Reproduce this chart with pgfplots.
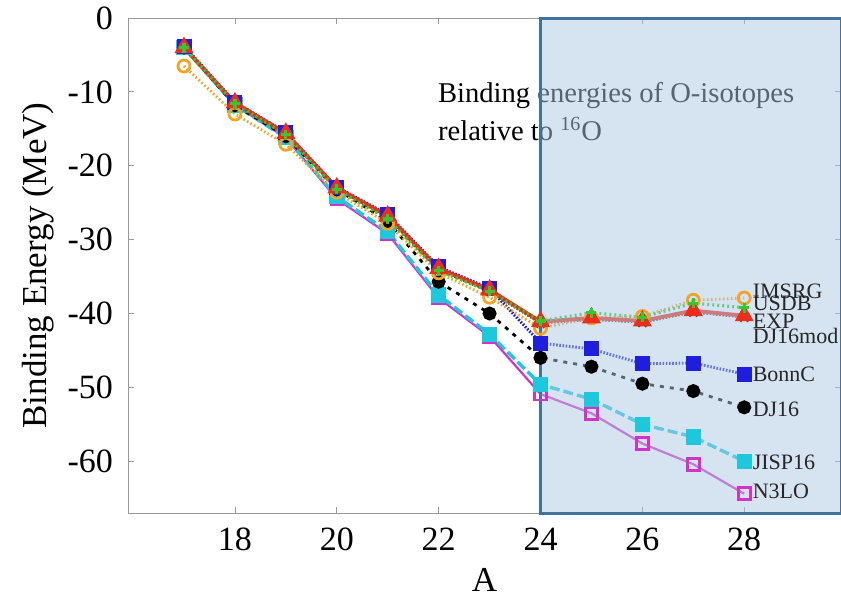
\documentclass[border=0pt]{standalone}
\usepackage{fontspec}
\setmainfont{Liberation Serif}
\usepackage{pgfplots}
\pgfplotsset{compat=1.18}
\usetikzlibrary{calc}

\definecolor{cExp}{RGB}{235,45,25}
\definecolor{cUsdb}{RGB}{50,200,50}
\definecolor{cImsrg}{RGB}{240,165,40}
\definecolor{cBonn}{RGB}{30,30,220}
\definecolor{cJisp}{RGB}{30,200,220}
\definecolor{cN3lo}{RGB}{210,50,200}
\definecolor{cMod}{RGB}{110,70,30}
\definecolor{rectfill}{RGB}{173,201,229}
\definecolor{rectedge}{RGB}{65,113,156}

\begin{document}
\begin{tikzpicture}
\begin{axis}[name=ax, width=356.5pt, height=247.5pt, scale only axis,
  xmin=15.9, xmax=29.9, ymin=-67, ymax=0, clip=false,
  xtick={18,20,...,28}, ytick={-60,-50,...,0},
  tick align=inside, major tick length=3pt,
  axis line style={gray!80}, every tick/.style={gray!80},
  tick label style={font=\fontsize{17}{20}\selectfont},
  /pgf/number format/assume math mode=true,
  xticklabel style={yshift=-4pt}, yticklabel style={xshift=-4pt},
  xlabel={A}, ylabel={Binding Energy (MeV)},
  label style={font=\fontsize{17.5}{21}\selectfont},
  xlabel style={at={(axis description cs:0.5,-0.1354)}, anchor=center},
  ylabel style={at={(axis description cs:-0.126,0.5)}, anchor=center},
  ]
% N3LO
\addplot[cN3lo, line width=1.1pt, mark=square, mark size=3pt, mark options={solid, line width=1.3pt}] coordinates {
(17,-3.9)(18,-11.8)(19,-16.2)(20,-24.5)(21,-29.2)(22,-37.9)(23,-43.1)(24,-50.9)(25,-53.5)(26,-57.6)(27,-60.4)(28,-64.4)};
% JISP16
\addplot[cJisp, line width=1.7pt, dash pattern=on 5pt off 2pt, mark=square*, mark size=3pt, mark options={solid}] coordinates {
(17,-4.0)(18,-11.8)(19,-16.2)(20,-24.2)(21,-28.9)(22,-37.5)(23,-42.8)(24,-49.6)(25,-51.6)(26,-55.0)(27,-56.7)(28,-60.0)};
% DJ16
\addplot[black, line width=1.4pt, dash pattern=on 2pt off 3pt, mark=*, mark size=2.8pt, mark options={solid}] coordinates {
(17,-4.0)(18,-11.8)(19,-16.0)(20,-23.2)(21,-27.5)(22,-35.7)(23,-40.0)(24,-46.0)(25,-47.2)(26,-49.5)(27,-50.5)(28,-52.7)};
% BonnC
\addplot[cBonn, line width=1.5pt, dash pattern=on 0.8pt off 0.8pt, mark=square*, mark size=3pt, mark options={solid}] coordinates {
(17,-3.8)(18,-11.4)(19,-15.5)(20,-22.9)(21,-26.6)(22,-33.7)(23,-36.6)(24,-44.0)(25,-44.8)(26,-46.8)(27,-46.7)(28,-48.2)};
% DJ16mod
\addplot[cMod, line width=1.4pt, dash pattern=on 0.8pt off 0.8pt, mark=x, mark size=3pt, mark options={solid}] coordinates {
(17,-4.0)(18,-11.7)(19,-15.8)(20,-23.1)(21,-27.0)(22,-34.1)(23,-37.0)(24,-41.3)(25,-40.8)(26,-41.2)(27,-39.8)(28,-40.5)};
% IMSRG
\addplot[cImsrg, line width=1.4pt, dash pattern=on 0.8pt off 1.2pt, mark=o, mark size=3pt, mark options={solid, line width=1.4pt}] coordinates {
(17,-6.5)(18,-13.0)(19,-17.1)(20,-23.6)(21,-27.8)(22,-34.5)(23,-37.8)(24,-42.0)(25,-40.6)(26,-40.4)(27,-38.2)(28,-37.9)};
% EXP
\addplot[cExp, line width=1.9pt, mark=triangle*, mark size=3.6pt] coordinates {
(17,-4.0)(18,-11.5)(19,-15.6)(20,-23.0)(21,-26.8)(22,-33.9)(23,-36.8)(24,-41.1)(25,-40.6)(26,-41.0)(27,-39.6)(28,-40.3)};
% USDB
\addplot[cUsdb, line width=1.6pt, dash pattern=on 1pt off 1.5pt, mark=+, mark size=2.5pt, mark options={solid}] coordinates {
(17,-4.0)(18,-11.6)(19,-15.8)(20,-23.2)(21,-27.2)(22,-34.2)(23,-37.0)(24,-41.0)(25,-39.9)(26,-40.5)(27,-38.6)(28,-39.2)};

\node[anchor=base west, align=left, font=\fontsize{14.3}{19}\selectfont]
  at (axis cs:21.85,-16.6) {Binding energies of O-isotopes\\relative to \textsuperscript{16}O};

\fill[rectfill, fill opacity=0.5] (axis cs:24,-67) rectangle (axis cs:29.9,0);
\draw[rectedge, line width=1.5pt] (axis cs:24,-67) rectangle (axis cs:29.9,0);

\begin{scope}[every node/.style={anchor=west, inner sep=0pt, font=\fontsize{11}{12}\selectfont, text=black!85}]
\node at (axis cs:28.16,-37.0) {IMSRG};
\node at (axis cs:28.16,-38.6) {USDB};
\node at (axis cs:28.16,-41.0) {EXP};
\node at (axis cs:28.16,-43.0) {DJ16mod};
\node at (axis cs:28.16,-48.2) {BonnC};
\node at (axis cs:28.16,-52.9) {DJ16};
\node at (axis cs:28.16,-60.1) {JISP16};
\node at (axis cs:28.16,-64.0) {N3LO};
\end{scope}
\end{axis}
\pgfresetboundingbox
\path ($(ax.south west)+(-64pt,-43.5pt)$) rectangle ($(ax.north east)+(0,9pt)$);
\end{tikzpicture}
\end{document}
